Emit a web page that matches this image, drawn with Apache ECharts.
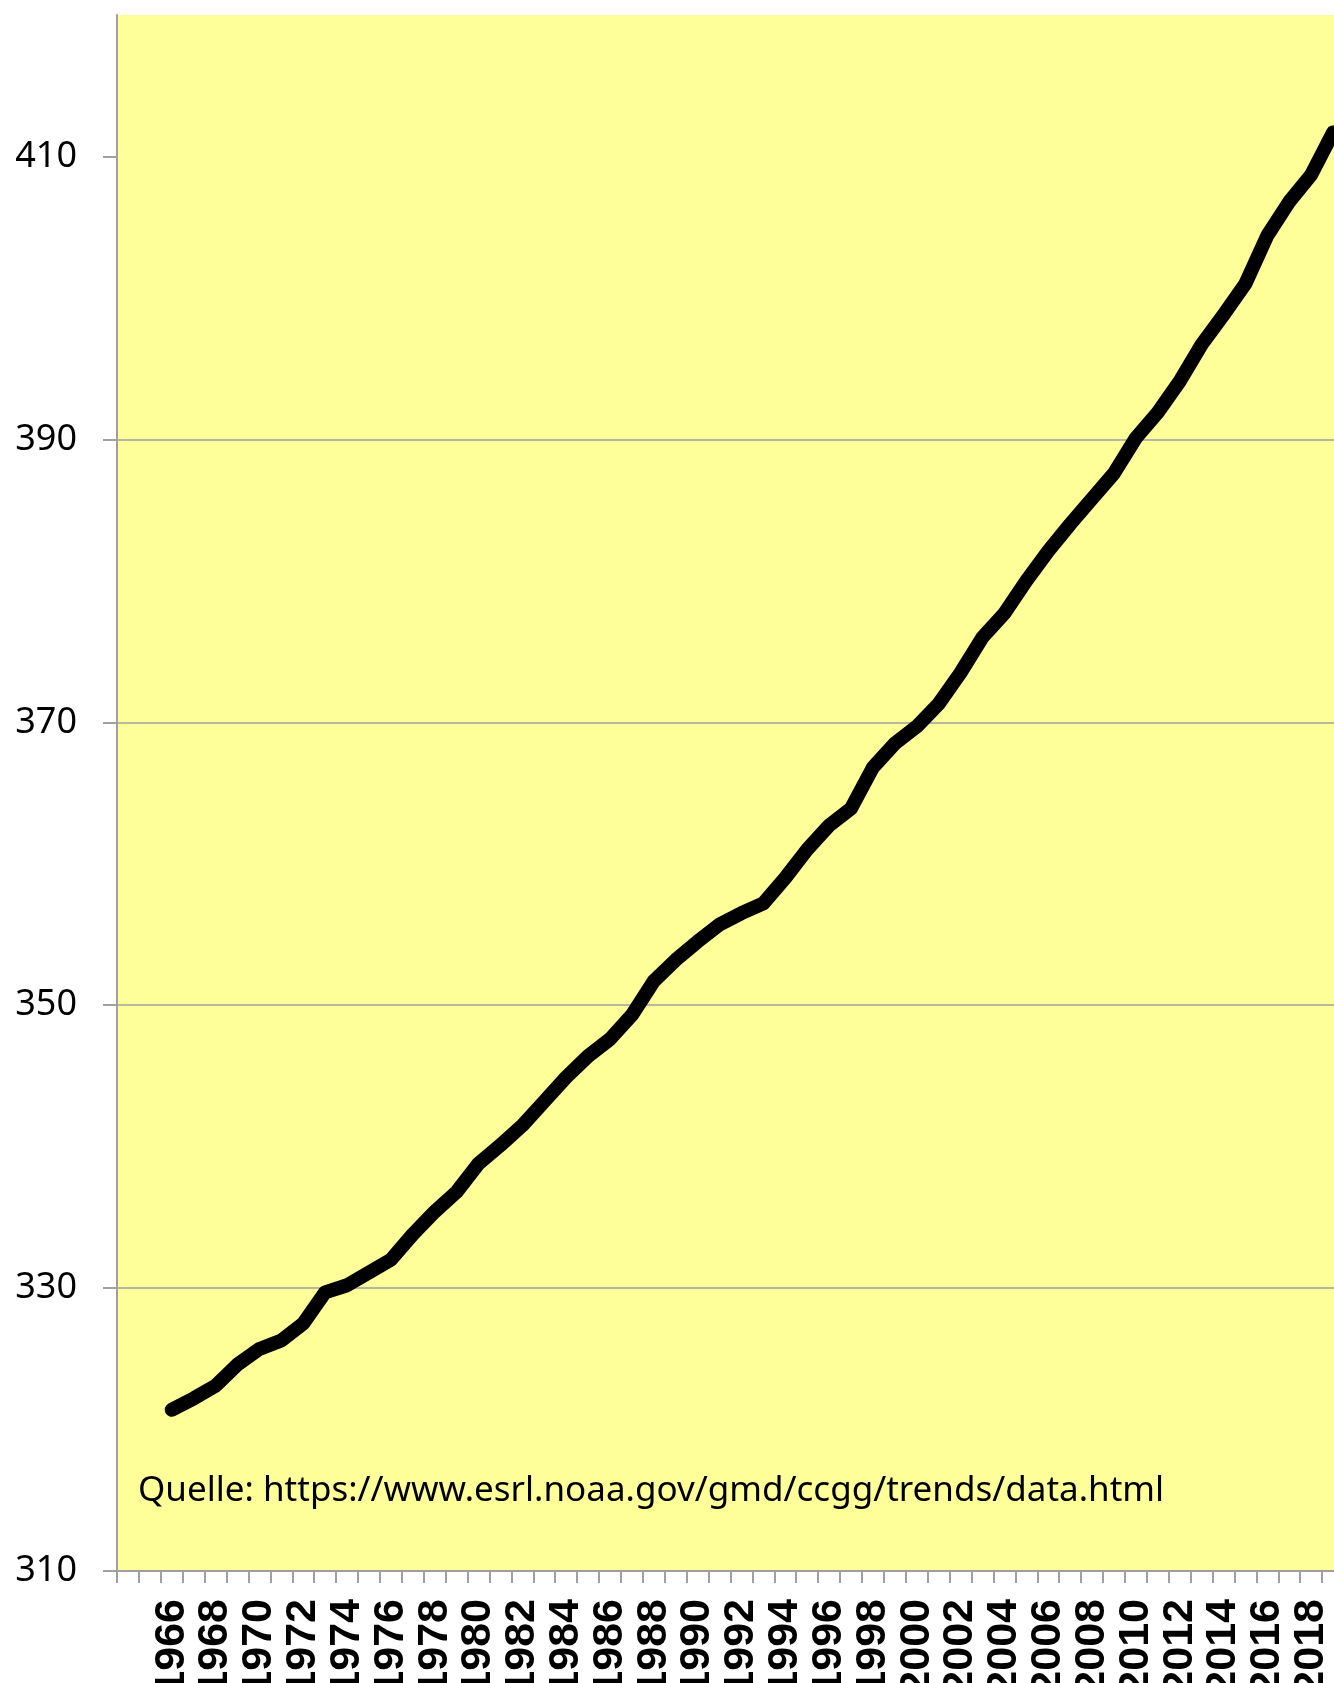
<!DOCTYPE html>
<html>
<head>
<meta charset="utf-8">
<script src="https://cdn.jsdelivr.net/npm/echarts@6/dist/echarts.min.js"></script>
<style>
html,body{margin:0;padding:0;background:#fff;overflow:hidden;}
#c{width:1334px;height:1683px;}
</style>
</head>
<body>
<div id="c"></div>
<script>
const years = [1964,1965,1966,1967,1968,1969,1970,1971,1972,1973,1974,1975,1976,1977,1978,1979,
  1980,1981,1982,1983,1984,1985,1986,1987,1988,1989,1990,1991,1992,1993,1994,1995,1996,1997,1998,1999,
  2000,2001,2002,2003,2004,2005,2006,2007,2008,2009,2010,2011,2012,2013,2014,2015,2016,2017,2018,2019];
const co2 = [null,null,321.4,322.2,323.1,324.6,325.7,326.3,327.5,329.7,330.2,331.1,332.0,333.8,335.4,336.8,
  338.8,340.1,341.5,343.2,344.9,346.4,347.6,349.3,351.7,353.2,354.5,355.7,356.5,357.2,359.0,361.0,362.7,363.9,366.8,368.5,
  369.7,371.3,373.5,376.0,377.7,380.0,382.1,384.0,385.8,387.6,390.1,391.9,394.1,396.7,398.8,401.0,404.4,406.8,408.7,411.7];
const yTicks = [310,330,350,370,390,410];
const sourceText = 'Quelle: https://www.esrl.noaa.gov/gmd/ccgg/trends/data.html';

const chart = echarts.init(document.getElementById('c'), null, {renderer:'canvas'});
chart.setOption({
  animation:false,
  backgroundColor:'#ffffff',
  grid:{left:117, right:-10, top:15, bottom:112, show:true, backgroundColor:'#FFFF99', borderWidth:0,
        containLabel:false, outerBoundsMode:'none'},
  xAxis:{
    type:'category',
    data:years,
    boundaryGap:true,
    axisLine:{show:true, lineStyle:{color:'#a0a0a0', width:2}},
    axisTick:{show:true, interval:0, length:12, lineStyle:{color:'#a0a0a0', width:2}},
    axisLabel:{
      interval:function(i){return i>=2 && i%2===0;},
      rotate:90, margin:28,
      fontFamily:'Liberation Sans', fontWeight:'bold', fontSize:43, color:'#000'
    },
    splitLine:{show:false}
  },
  yAxis:{
    type:'value',
    min:310, max:420, interval:20,
    axisLine:{show:true, lineStyle:{color:'#a0a0a0', width:2}},
    axisTick:{show:true, length:14, customValues:yTicks, lineStyle:{color:'#a0a0a0', width:2}},
    axisLabel:{customValues:yTicks, margin:40, fontFamily:'Noto Sans', fontSize:36, color:'#000'},
    splitLine:{show:true, showMaxLine:false, lineStyle:{color:'#a0a0a0', width:1.5}}
  },
  graphic:[{
    type:'text', left:138, top:1474,
    style:{text:sourceText, font:'35px "Noto Sans"', fill:'#000'}
  }],
  series:[{
    type:'line',
    data:co2,
    symbol:'none',
    connectNulls:false,
    lineStyle:{color:'#000', width:14, cap:'round', join:'round'}
  }]
});
</script>
</body>
</html>
